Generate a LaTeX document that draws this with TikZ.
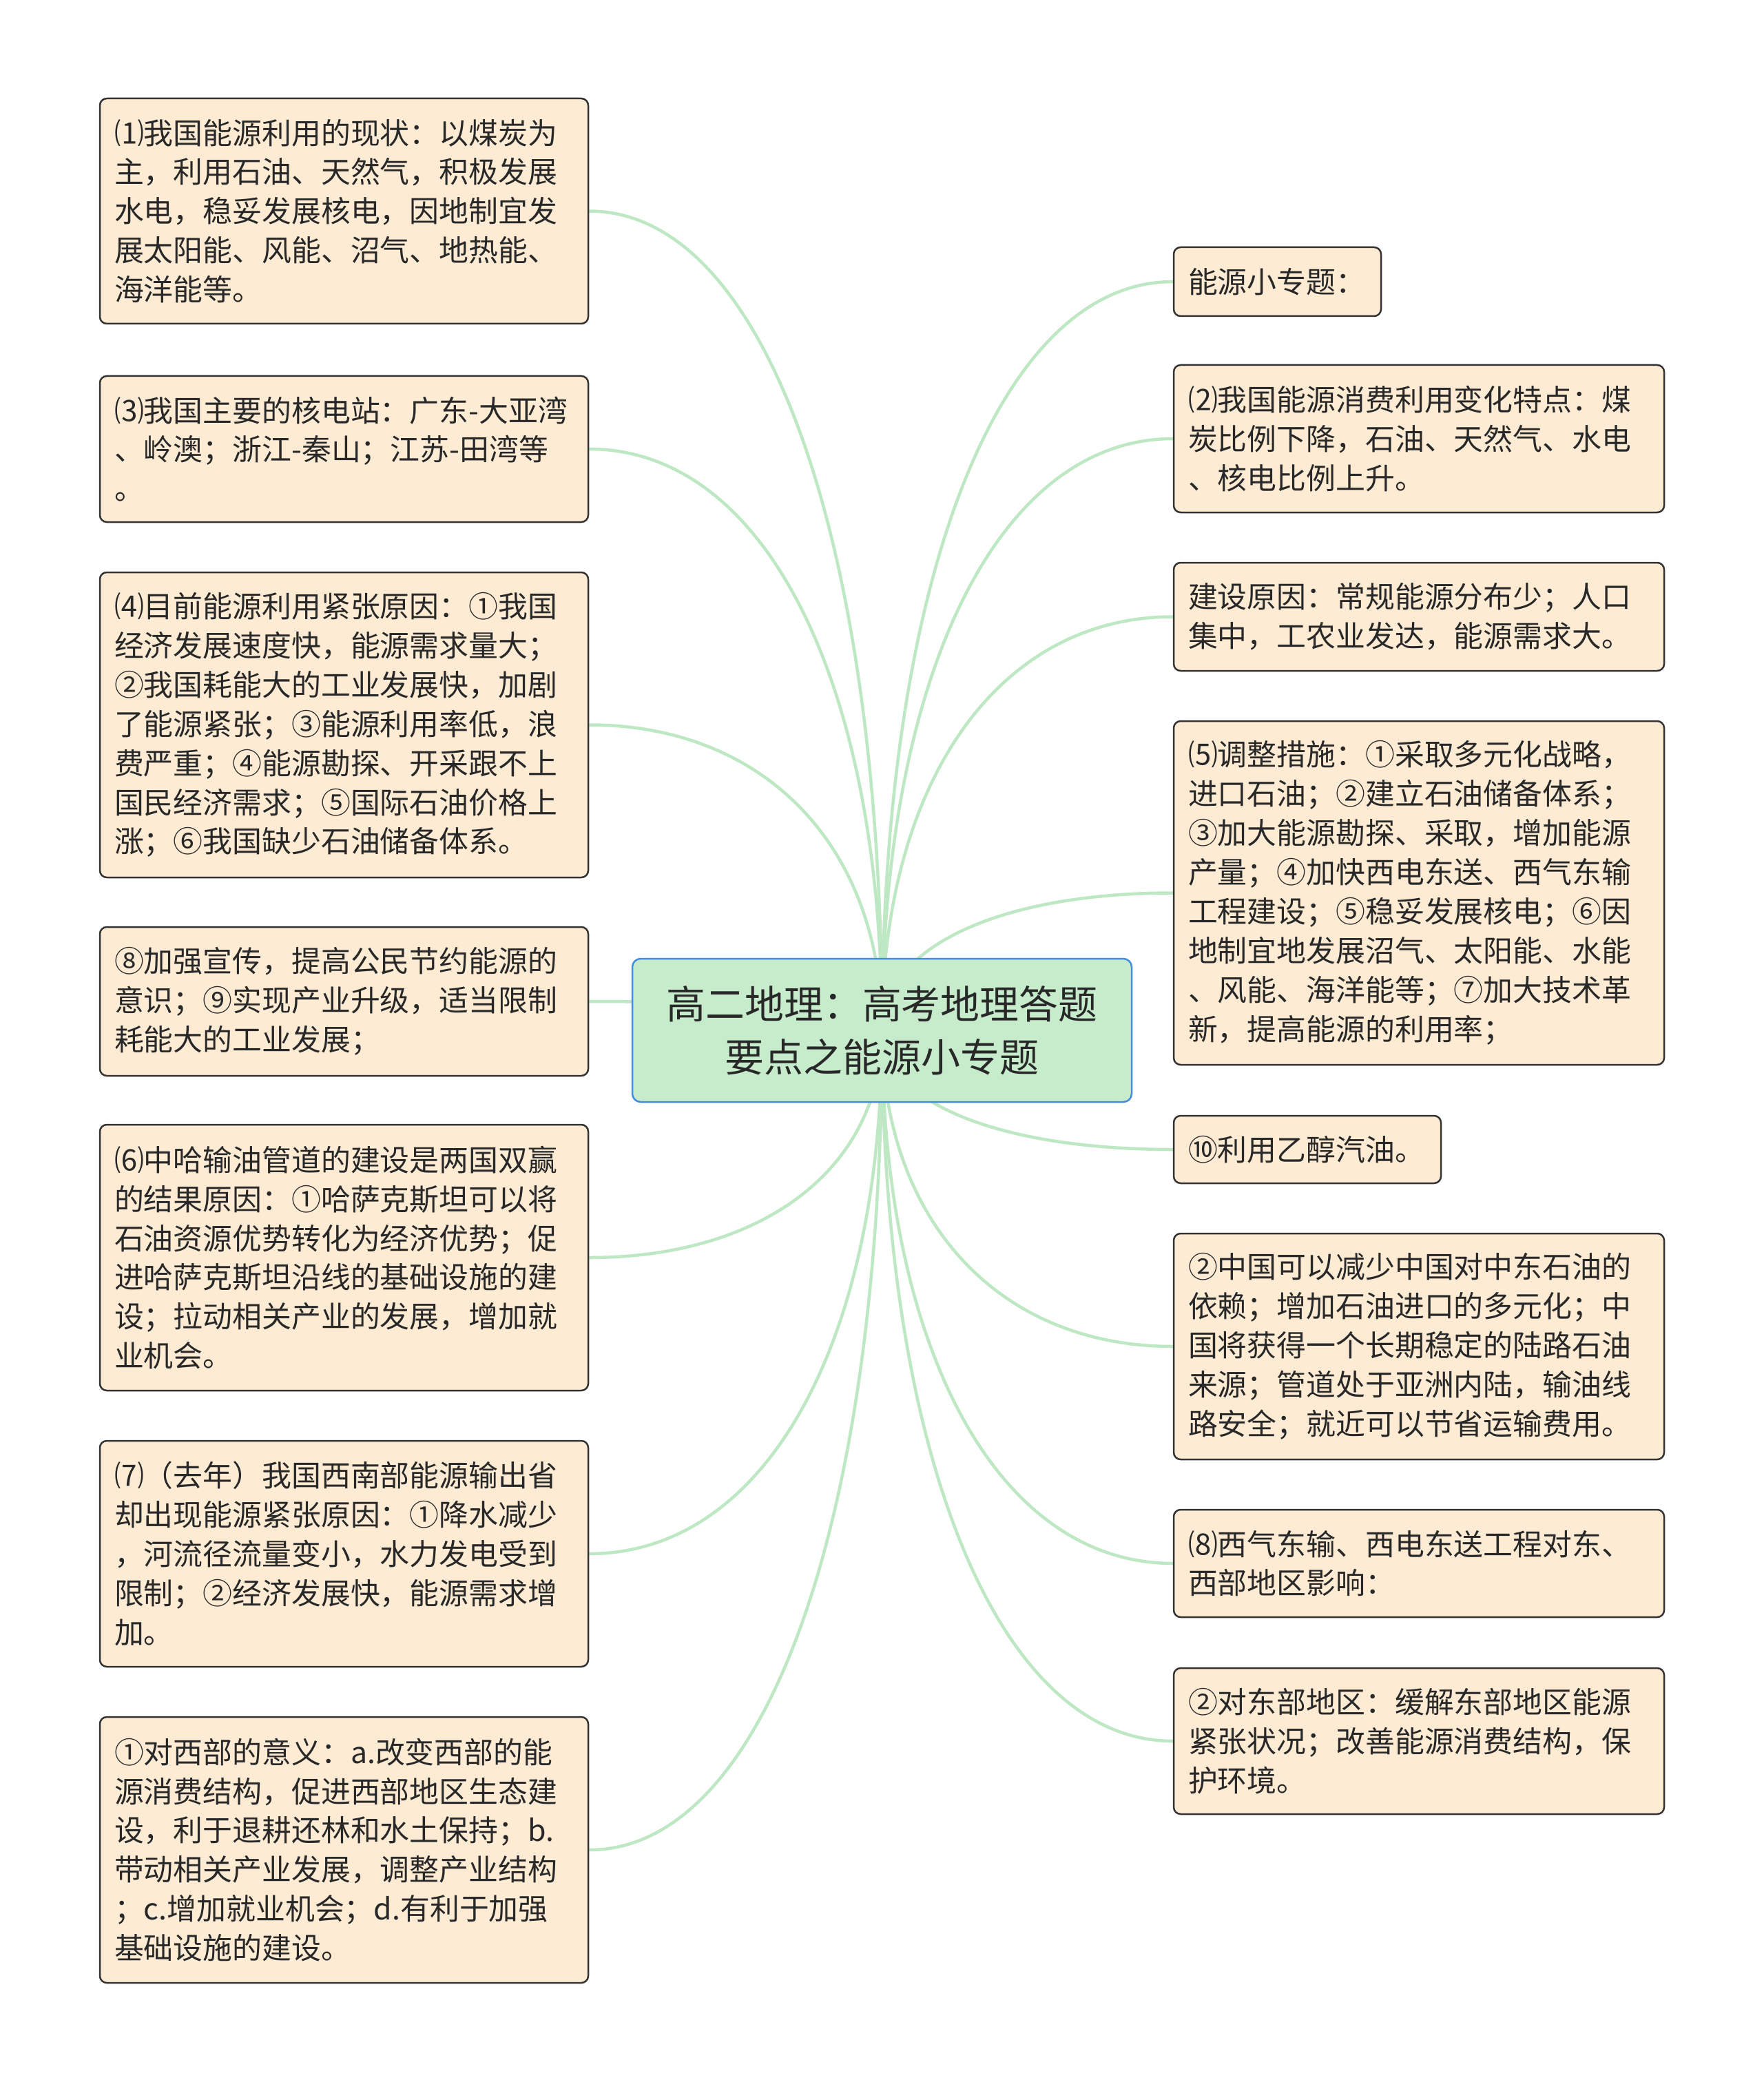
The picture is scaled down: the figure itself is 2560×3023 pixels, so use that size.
\documentclass[tikz,border=0pt]{standalone}
\usepackage{fontspec}
\setmainfont{Noto Sans CJK SC}
\usetikzlibrary{calc,backgrounds}
\definecolor{boxfill}{RGB}{253,235,212}
\definecolor{boxline}{RGB}{51,51,51}
\definecolor{rootfill}{RGB}{198,236,203}
\definecolor{rootline}{RGB}{70,140,220}
\definecolor{linkgreen}{RGB}{190,232,196}
\definecolor{inkgray}{RGB}{40,40,40}

\begin{document}
\begin{tikzpicture}[x=0.1mm, y=-0.1mm,
    topic/.style={draw=boxline, fill=boxfill, rounded corners=1mm, line width=0.25mm, text=inkgray, align=left, inner xsep=2.1mm, inner ysep=0mm, font=\fontsize{12.2pt}{16.2pt}\selectfont},
    leftbox/.style={topic, text width=66.7mm},
    rightbox/.style={topic, text width=67mm},
    root/.style={draw=rootline, fill=rootfill, rounded corners=1.2mm, line width=0.25mm, text=inkgray, align=center, minimum width=72.5mm, minimum height=20.8mm, font=\fontsize{16.2pt}{21.9pt}\selectfont},
    link/.style={draw=linkgreen, line width=0.45mm},
    twig/.style={to path={.. controls ($(\tikztostart)!0.6!(\tikztostart|-\tikztotarget)$) and ($(\tikztotarget)!0.6!(\tikztostart|-\tikztotarget)$) .. (\tikztotarget)}},
]
\useasboundingbox (0,0) rectangle (2560,3023);

% central topic
\node[root] (root) at (1280.5,1496) {高二地理：高考地理答题\\要点之能源小专题};

% left side
\node[leftbox, minimum height=32.7mm] (l1) at (499.5,306.5) {⑴我国能源利用的现状：以煤炭为\\主，利用石油、天然气，积极发展\\水电，稳妥发展核电，因地制宜发\\展太阳能、风能、沼气、地热能、\\海洋能等。};
\node[leftbox, minimum height=21.2mm] (l2) at (499.5,652) {⑶我国主要的核电站：广东-大亚湾\\、岭澳；浙江-秦山；江苏-田湾等\\。};
\node[leftbox, minimum height=44.3mm] (l3) at (499.5,1052.5) {⑷目前能源利用紧张原因：①我国\\经济发展速度快，能源需求量大；\\②我国耗能大的工业发展快，加剧\\了能源紧张；③能源利用率低，浪\\费严重；④能源勘探、开采跟不上\\国民经济需求；⑤国际石油价格上\\涨；⑥我国缺少石油储备体系。};
\node[leftbox, minimum height=21.6mm] (l4) at (499.5,1454) {⑧加强宣传，提高公民节约能源的\\意识；⑨实现产业升级，适当限制\\耗能大的工业发展；};
\node[leftbox, minimum height=38.6mm] (l5) at (499.5,1826) {⑹中哈输油管道的建设是两国双赢\\的结果原因：①哈萨克斯坦可以将\\石油资源优势转化为经济优势；促\\进哈萨克斯坦沿线的基础设施的建\\设；拉动相关产业的发展，增加就\\业机会。};
\node[leftbox, minimum height=32.8mm] (l6) at (499.5,2256) {⑺（去年）我国西南部能源输出省\\却出现能源紧张原因：①降水减少\\，河流径流量变小，水力发电受到\\限制；②经济发展快，能源需求增\\加。};
\node[leftbox, minimum height=38.6mm] (l7) at (499.5,2686) {①对西部的意义：a.改变西部的能\\源消费结构，促进西部地区生态建\\设，利于退耕还林和水土保持；b.\\带动相关产业发展，调整产业结构\\；c.增加就业机会；d.有利于加强\\基础设施的建设。};

% right side
\node[topic, text width=25.9mm, minimum height=10mm] (r1) at (1854.5,409) {能源小专题：};
\node[rightbox, minimum height=21.4mm] (r2) at (2060,637) {⑵我国能源消费利用变化特点：煤\\炭比例下降，石油、天然气、水电\\、核电比例上升。};
\node[rightbox, minimum height=15.7mm] (r3) at (2060,895.5) {建设原因：常规能源分布少；人口\\集中，工农业发达，能源需求大。};
\node[rightbox, minimum height=49.9mm] (r4) at (2060,1296.5) {⑸调整措施：①采取多元化战略，\\进口石油；②建立石油储备体系；\\③加大能源勘探、采取，增加能源\\产量；④加快西电东送、西气东输\\工程建设；⑤稳妥发展核电；⑥因\\地制宜地发展沼气、太阳能、水能\\、风能、海洋能等；⑦加大技术革\\新，提高能源的利用率；};
\node[topic, text width=34.6mm, minimum height=9.8mm] (r5) at (1898,1669) {⑩利用乙醇汽油。};
\node[rightbox, minimum height=32.8mm] (r6) at (2060,1955) {②中国可以减少中国对中东石油的\\依赖；增加石油进口的多元化；中\\国将获得一个长期稳定的陆路石油\\来源；管道处于亚洲内陆，输油线\\路安全；就近可以节省运输费用。};
\node[rightbox, minimum height=15.6mm] (r7) at (2060,2270) {⑻西气东输、西电东送工程对东、\\西部地区影响：};
\node[rightbox, minimum height=21.2mm] (r8) at (2060,2528) {②对东部地区：缓解东部地区能源\\紧张状况；改善能源消费结构，保\\护环境。};

% connectors behind the boxes
\begin{scope}[on background layer]
\fill[white] (0,0) rectangle (2560,3023);
\draw[link] (root.center) to[twig] (l1.east);
\draw[link] (root.center) to[twig] (l2.east);
\draw[link] (root.center) to[twig] (l3.east);
\draw[link] (root.center) to[twig] (l4.east);
\draw[link] (root.center) to[twig] (l5.east);
\draw[link] (root.center) to[twig] (l6.east);
\draw[link] (root.center) to[twig] (l7.east);
\draw[link] (root.center) to[twig] (r1.west);
\draw[link] (root.center) to[twig] (r2.west);
\draw[link] (root.center) to[twig] (r3.west);
\draw[link] (root.center) to[twig] (r4.west);
\draw[link] (root.center) to[twig] (r5.west);
\draw[link] (root.center) to[twig] (r6.west);
\draw[link] (root.center) to[twig] (r7.west);
\draw[link] (root.center) to[twig] (r8.west);
\end{scope}
\end{tikzpicture}
\end{document}
